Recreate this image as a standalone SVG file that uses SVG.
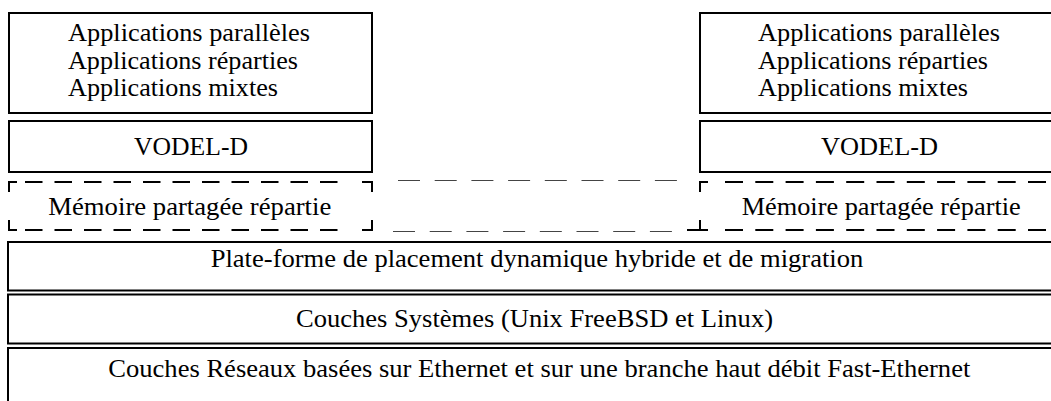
<svg xmlns="http://www.w3.org/2000/svg" width="1051" height="401" viewBox="0 0 1051 401">
<style>
.box{fill:#fff;stroke:#000;stroke-width:2}
.dash{fill:none;stroke:#000;stroke-width:2}
.thin{fill:none;stroke:#444;stroke-width:1.2;stroke-dasharray:22 14.7}
</style>
<rect width="1051" height="401" fill="#fff"/>
<g id="connectors">
  <line class="thin" x1="398" y1="180.5" x2="690" y2="180.5"/>
  <line class="thin" x1="393" y1="231.5" x2="680" y2="231.5"/>
</g>
<g font-family="'Liberation Serif', 'Times New Roman', serif" font-size="26" fill="#000">
<g id="apps-left">
  <rect class="box" x="9" y="13" width="363" height="100"/>
  <text x="68" y="41" textLength="242" lengthAdjust="spacingAndGlyphs">Applications parallèles</text>
  <text x="68" y="68.5" textLength="230" lengthAdjust="spacingAndGlyphs">Applications réparties</text>
  <text x="68" y="95.5" textLength="210" lengthAdjust="spacingAndGlyphs">Applications mixtes</text>
</g>
<g id="apps-right">
  <rect class="box" x="700" y="13" width="363" height="100"/>
  <text x="758" y="41" textLength="242" lengthAdjust="spacingAndGlyphs">Applications parallèles</text>
  <text x="758" y="68.5" textLength="230" lengthAdjust="spacingAndGlyphs">Applications réparties</text>
  <text x="758" y="95.5" textLength="210" lengthAdjust="spacingAndGlyphs">Applications mixtes</text>
</g>
<g id="vodel-left">
  <rect class="box" x="9" y="121" width="363" height="51"/>
  <text x="134" y="155" textLength="114" lengthAdjust="spacingAndGlyphs">VODEL-D</text>
</g>
<g id="vodel-right">
  <rect class="box" x="700" y="121" width="363" height="51"/>
  <text x="821" y="155" textLength="117" lengthAdjust="spacingAndGlyphs">VODEL-D</text>
</g>
<g id="dsm-left">
  <path class="dash" d="M9,192V182H17M362,182H372V192M9,220V230H17M362,230H372V220"/>
  <line class="dash" x1="25" y1="182" x2="338" y2="182" stroke-dasharray="17.5 12"/>
  <line class="dash" x1="25" y1="230" x2="338" y2="230" stroke-dasharray="17.5 12"/>
  <text x="48.3" y="215" textLength="283" lengthAdjust="spacingAndGlyphs">Mémoire partagée répartie</text>
</g>
<g id="dsm-right">
  <path class="dash" d="M700,192V182H708M700,220V230H708M687,230H700"/>
  <line class="dash" x1="725" y1="182" x2="1051" y2="182" stroke-dasharray="18 12.3"/>
  <line class="dash" x1="725" y1="230" x2="1051" y2="230" stroke-dasharray="18 12.3"/>
  <text x="741.7" y="215" textLength="279" lengthAdjust="spacingAndGlyphs">Mémoire partagée répartie</text>
</g>
<g id="plateforme">
  <rect class="box" x="8" y="242" width="1060" height="48.5"/>
  <text x="210.7" y="267" textLength="652.6" lengthAdjust="spacingAndGlyphs">Plate-forme de placement dynamique hybride et de migration</text>
</g>
<g id="systemes">
  <rect class="box" x="8" y="294.5" width="1060" height="49"/>
  <text x="296" y="327" textLength="477" lengthAdjust="spacingAndGlyphs">Couches Systèmes (Unix FreeBSD et Linux)</text>
</g>
<g id="reseaux">
  <rect class="box" x="8" y="348" width="1060" height="70"/>
  <text x="108.3" y="376.7" textLength="862" lengthAdjust="spacingAndGlyphs">Couches Réseaux basées sur Ethernet et sur une branche haut débit Fast-Ethernet</text>
</g>
</g>
</svg>
